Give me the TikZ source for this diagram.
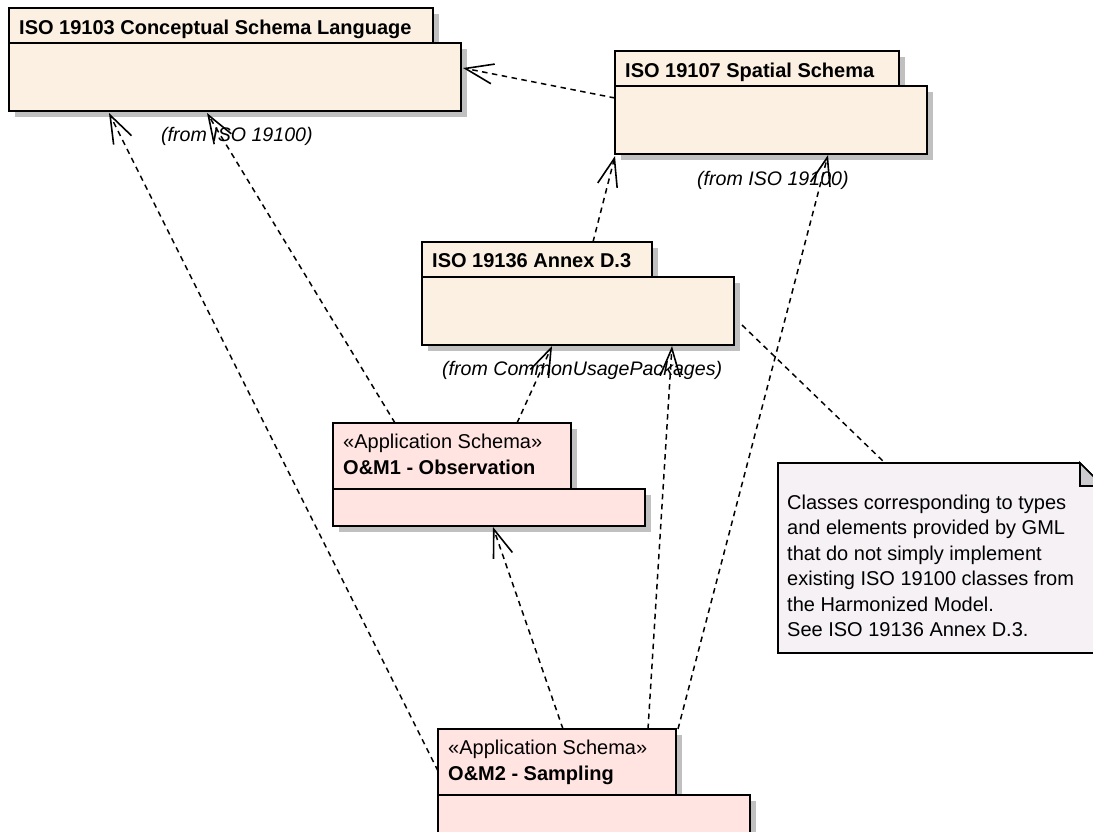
\documentclass[tikz,border=0pt]{standalone}
\usepackage{fontspec}
\setmainfont{Liberation Sans}
\usetikzlibrary{arrows.meta,shadows,calc}
\definecolor{pkgfill}{RGB}{251,240,225}
\definecolor{appfill}{RGB}{255,228,225}
\definecolor{notefill}{RGB}{245,241,245}
\definecolor{foldfill}{RGB}{205,203,208}
\definecolor{shadowgray}{RGB}{192,192,192}
\begin{document}
\begin{tikzpicture}[x=1pt,y=-1pt,
  box/.style={draw=black, line width=1.6pt, anchor=north west, inner sep=0pt, outer sep=0pt,
    drop shadow={shadow xshift=6pt, shadow yshift=-6pt, fill=shadowgray, opacity=1}},
  pkg/.style={box, fill=pkgfill},
  app/.style={box, fill=appfill},
  txt/.style={font=\fontsize{20}{22}\selectfont, inner sep=0pt, anchor=base west},
  btxt/.style={txt, font=\fontsize{20}{22}\selectfont\bfseries},
  itxt/.style={txt, font=\fontsize{19.6}{22}\selectfont\itshape},
  dep/.style={line width=1.5pt, dash pattern=on 5.5pt off 4.5pt,
    -{Straight Barb[length=28pt, width=20pt, line width=1.6pt]}},
  link/.style={line width=1.5pt, dash pattern=on 5.5pt off 4.5pt},
]
\useasboundingbox (0,0) rectangle (1093,831);
\clip (0,0) rectangle (1093,831);

% ISO 19103
\node[pkg, minimum width=424, minimum height=35] (p1tab) at (9,8) {};
\node[pkg, minimum width=452, minimum height=68] (p1body) at (9,43) {};
\node[btxt] (p1name) at (19,34) {ISO 19103 Conceptual Schema Language};
\node[itxt] (p1from) at (161,141.5) {(from ISO 19100)};

% ISO 19107
\node[pkg, minimum width=284, minimum height=35] (p2tab) at (615,51) {};
\node[pkg, minimum width=312, minimum height=68] (p2body) at (615,86) {};
\node[btxt] (p2name) at (625,77) {ISO 19107 Spatial Schema};
\node[itxt] (p2from) at (697,185.5) {(from ISO 19100)};

% ISO 19136 Annex D.3
\node[pkg, minimum width=230, minimum height=35] (p3tab) at (422,242) {};
\node[pkg, minimum width=312, minimum height=68] (p3body) at (422,277) {};
\node[btxt] (p3name) at (432,267.5) {ISO 19136 Annex D.3};
\node[itxt] (p3from) at (442,375.5) {(from CommonUsagePackages)};

% O&M1
\node[app, minimum width=238, minimum height=66] (p4tab) at (333,423) {};
\node[app, minimum width=312, minimum height=37] (p4body) at (333,489) {};
\node[txt] (p4st) at (343,448) {«Application Schema»};
\node[btxt] (p4name) at (343,474) {O\&M1 - Observation};

% O&M2
\node[app, minimum width=238, minimum height=66] (p5tab) at (438,729) {};
\node[app, minimum width=312, minimum height=70] (p5body) at (438,795) {};
\node[txt] (p5st) at (448,754) {«Application Schema»};
\node[btxt] (p5name) at (448,780) {O\&M2 - Sampling};

% Note
\node[anchor=north west, minimum width=325, minimum height=190, inner sep=0pt, outer sep=0pt] (note) at (778,463) {};
\draw[line width=1.6pt, fill=notefill]
  (note.north west) -- ($(note.north east)+(-23,0)$) -- ($(note.north east)+(0,23)$)
  -- (note.south east) -- (note.south west) -- cycle;
\draw[line width=1.6pt, fill=foldfill]
  ($(note.north east)+(-23,0)$) -- ($(note.north east)+(-23,23)$) -- ($(note.north east)+(0,23)$) -- cycle;
\node[txt] (n1) at (787,509) {Classes corresponding to types};
\node[txt] (n2) at (787,534.5) {and elements provided by GML};
\node[txt] (n3) at (787,560) {that do not simply implement};
\node[txt] (n4) at (787,585.5) {existing ISO 19100 classes from};
\node[txt] (n5) at (787,611) {the Harmonized Model.};
\node[txt] (n6) at (787,636.5) {See ISO 19136 Annex D.3.};

% Connectors
\draw[dep] ($(p2body.north west)+(0,12)$) -- ($(p1body.north east)+(2,25)$);
\draw[dep] ($(p3tab.north west)+(171,0)$) -- ($(p2body.south west)+(0,2)$);
\draw[dep] ($(p4tab.north west)+(62,0)$) -- ($(p1body.south west)+(198,2)$);
\draw[dep] ($(p4tab.north west)+(184,0)$) -- ($(p3body.south west)+(130,1)$);
\draw[dep] ($(p5tab.north west)+(0,42)$) -- ($(p1body.south west)+(100,2)$);
\draw[dep] ($(p5tab.north west)+(125,0)$) -- ($(p4body.south west)+(160,1)$);
\draw[dep] ($(p5tab.north west)+(210,0)$) -- ($(p3body.south west)+(250,1)$);
\draw[dep] ($(p5tab.north west)+(240,0)$) -- ($(p2body.south west)+(213,1)$);
\draw[link] ($(p3body.north east)+(8,48)$) -- ($(note.north west)+(107,0)$);
\end{tikzpicture}
\end{document}
